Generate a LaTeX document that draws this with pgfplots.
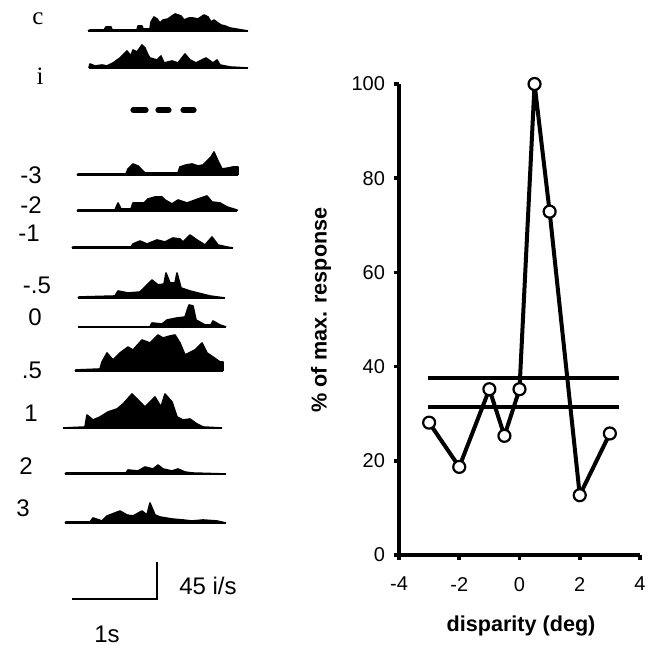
\documentclass[border=0pt]{standalone}
\usepackage{pgfplots}
\pgfplotsset{compat=1.18}
\usepackage{pgfplotstable}
\usepackage{fontspec}
\setmainfont{Liberation Sans}
\newfontfamily\serifc{Liberation Serif}

% histogram profiles: x in pixels, h = height above baseline in pixels
\pgfplotstableread[row sep=\\]{x h\\ 88 0\\ 90 1\\ 104 1\\ 106 4\\ 111 4\\ 112 1\\ 137 1\\ 138 5\\ 142 5\\ 143 2\\ 150 2\\ 151 9\\ 154 14\\ 157 12\\ 160 8\\ 163 11\\ 168 12\\ 172 15\\ 175 17\\ 178 16\\ 181 15\\ 184 11\\ 189 13\\ 193 13\\ 198 12\\ 204 16\\ 208 14\\ 211 9\\ 214 11\\ 218 8\\ 221 6\\ 225 5\\ 230 3\\ 236 2\\ 242 1\\ 248 0\\}\hc
\pgfplotstableread[row sep=\\]{x h\\ 89 0\\ 90 4\\ 95 2\\ 102 3\\ 107 2\\ 113 5\\ 120 10\\ 127 17\\ 131 12\\ 133 18\\ 137 16\\ 142 23\\ 145 20\\ 148 13\\ 150 10\\ 157 8\\ 161 12\\ 164 5\\ 172 7\\ 178 5\\ 185 14\\ 190 8\\ 196 5\\ 206 10\\ 213 5\\ 217 8\\ 220 3\\ 230 1\\ 248 0\\}\hi
\pgfplotstableread[row sep=\\]{x h\\ 77 0\\ 78 1\\ 126 1\\ 128 6\\ 133 11\\ 138 9\\ 141 6\\ 145 2\\ 178 2\\ 180 8\\ 186 10\\ 192 11\\ 198 9\\ 203 10\\ 208 15\\ 211 18\\ 214 23\\ 218 14\\ 222 6\\ 228 7\\ 233 8\\ 238 8\\ 238 0\\}\hma
\pgfplotstableread[row sep=\\]{x h\\ 77 0\\ 78 1\\ 115 1\\ 118 8\\ 121 2\\ 131 2\\ 133 8\\ 144 8\\ 148 12\\ 155 14\\ 162 14\\ 165 11\\ 172 7\\ 178 11\\ 187 8\\ 198 12\\ 207 15\\ 212 9\\ 220 8\\ 227 4\\ 237 1\\ 237 0\\}\hmb
\pgfplotstableread[row sep=\\]{x h\\ 72 0\\ 73 1\\ 131 1\\ 133 4\\ 140 7\\ 147 4\\ 157 8\\ 165 6\\ 173 10\\ 180 9\\ 183 6\\ 190 13\\ 197 8\\ 205 3\\ 212 11\\ 218 3\\ 227 1\\ 233 0\\}\hmc
\pgfplotstableread[row sep=\\]{x h\\ 78 0\\ 79 1\\ 115 2\\ 118 7\\ 128 5\\ 140 6\\ 145 11\\ 152 18\\ 158 13\\ 164 14\\ 166 25\\ 170 15\\ 175 15\\ 177 25\\ 181 10\\ 190 7\\ 202 4\\ 210 2\\ 225 0\\}\hmd
\pgfplotstableread[row sep=\\]{x h\\ 78 0\\ 150 0\\ 152 4\\ 162 3\\ 167 7\\ 177 9\\ 185 10\\ 187 16\\ 189 22\\ 193 21\\ 196 7\\ 205 2\\ 211 2\\ 213 6\\ 220 2\\ 226 0\\}\hz
\pgfplotstableread[row sep=\\]{x h\\ 75 0\\ 76 1\\ 100 2\\ 102 9\\ 107 18\\ 113 11\\ 120 18\\ 128 24\\ 133 21\\ 142 31\\ 150 28\\ 158 36\\ 163 33\\ 170 35\\ 175 36\\ 180 28\\ 185 16\\ 195 21\\ 202 28\\ 207 18\\ 213 14\\ 220 9\\ 223 9\\ 223 0\\}\hpa
\pgfplotstableread[row sep=\\]{x h\\ 63 0\\ 85 1\\ 87 13\\ 93 8\\ 100 11\\ 108 16\\ 117 19\\ 123 24\\ 132 34\\ 138 28\\ 145 21\\ 155 31\\ 161 21\\ 165 34\\ 172 26\\ 177 11\\ 183 8\\ 190 9\\ 197 4\\ 203 1\\ 222 0\\}\hpb
\pgfplotstableread[row sep=\\]{x h\\ 65 0\\ 66 1\\ 126 1\\ 128 4\\ 138 3\\ 145 7\\ 153 5\\ 158 9\\ 163 5\\ 172 3\\ 178 5\\ 185 2\\ 192 1\\ 226 0\\}\hpc
\pgfplotstableread[row sep=\\]{x h\\ 65 0\\ 66 1\\ 90 1\\ 93 5\\ 102 2\\ 107 7\\ 120 12\\ 127 8\\ 133 7\\ 142 12\\ 147 8\\ 150 20\\ 155 8\\ 160 6\\ 172 4\\ 183 3\\ 192 2\\ 203 3\\ 217 2\\ 226 0\\}\hpd

\newcommand{\hist}[4]{% table, baseline, xstart, xend
  \addplot[fill=black, draw=black, line width=0.8pt, line join=round] table[x=x, y expr=\thisrow{h}+#2] {#1};
  \addplot[black, line width=1.3pt] coordinates {(#3,#2) (#4,#2)};
}

\begin{document}
\begin{tikzpicture}
\useasboundingbox (0,0) rectangle (326pt,326.5pt);
% canvas axis for the left panel (pixel units)
\begin{axis}[at={(0,0)}, anchor=south west, scale only axis,
  width=326pt, height=326.5pt, xmin=0, xmax=652, ymin=0, ymax=653,
  hide axis, clip=false]
\hist{\hc}{622}{88}{248}
\hist{\hi}{585}{89}{248}
\hist{\hma}{478}{77}{238}
\hist{\hmb}{442}{77}{237}
\hist{\hmc}{405}{72}{233}
\hist{\hmd}{355}{78}{225}
\hist{\hz}{326}{78}{226}
\hist{\hpa}{282}{75}{223}
\hist{\hpb}{225}{63}{222}
\hist{\hpc}{179}{65}{226}
\hist{\hpd}{130}{65}{226}
% stimulus dashes
\addplot[black, line width=2.6pt, line cap=round] coordinates {(133,543) (146,543)};
\addplot[black, line width=2.6pt, line cap=round] coordinates {(158,543) (169,543)};
\addplot[black, line width=2.6pt, line cap=round] coordinates {(183,543) (194,543)};
% scale bar
\addplot[black, line width=1.1pt] coordinates {(72,54) (157,54) (157,91)};
% labels
\node[font=\serifc\fontsize{12.5}{14}\selectfont] at (axis cs:38,634) {c};
\node[font=\serifc\fontsize{12.5}{14}\selectfont] at (axis cs:40,577) {i};
\begin{scope}[every node/.style={font=\fontsize{12}{14}\selectfont}]
\node at (axis cs:31,478) {-3};
\node at (axis cs:31,448) {-2};
\node at (axis cs:29,420) {-1};
\node at (axis cs:37,368) {-.5};
\node at (axis cs:35,336) {0};
\node at (axis cs:32,283) {.5};
\node at (axis cs:31,240) {1};
\node at (axis cs:26,187) {2};
\node at (axis cs:23,145) {3};
\node at (axis cs:208,67) {45 i/s};
\node at (axis cs:107,19) {1s};
\end{scope}
\node[font=\bfseries\fontsize{10.8}{13}\selectfont] at (axis cs:521,27) {disparity (deg)};
\node[font=\bfseries\fontsize{10.8}{13}\selectfont, rotate=90] at (axis cs:321,343) {\% of max. response};
\end{axis}
% right panel
\begin{axis}[at={(199.5pt,49pt)}, anchor=south west, scale only axis,
  width=120.5pt, height=235.5pt,
  xmin=-4, xmax=4, ymin=0, ymax=100,
  axis lines*=left, axis line style={line width=2pt, -},
  xtick={-4,-2,0,2,4}, xticklabels={-4,-2,0,2,4},
  ytick={0,20,40,60,80,100},
  tick align=outside, major tick length=2.5pt,
  tick style={line width=1.8pt, black},
  /pgf/number format/assume math mode=true,
  tick label style={font=\fontsize{10}{12}\selectfont},
  xticklabel style={yshift=-5pt},
  yticklabel style={xshift=-1pt},
  clip=false]
\addplot[black, line width=2pt] coordinates {(-3.05,37.5) (3.3,37.5)};
\addplot[black, line width=2pt] coordinates {(-3.05,31.4) (3.3,31.4)};
\addplot[black, line width=2pt, mark=*, mark size=3pt,
  mark options={fill=white, draw=black, line width=1.1pt}]
  coordinates {(-3,28.1) (-2,18.7) (-1,35.2) (-0.5,25.3) (0,35.2) (0.5,100) (1,72.9) (2,12.7) (3,25.8)};
\end{axis}
\end{tikzpicture}
\end{document}
